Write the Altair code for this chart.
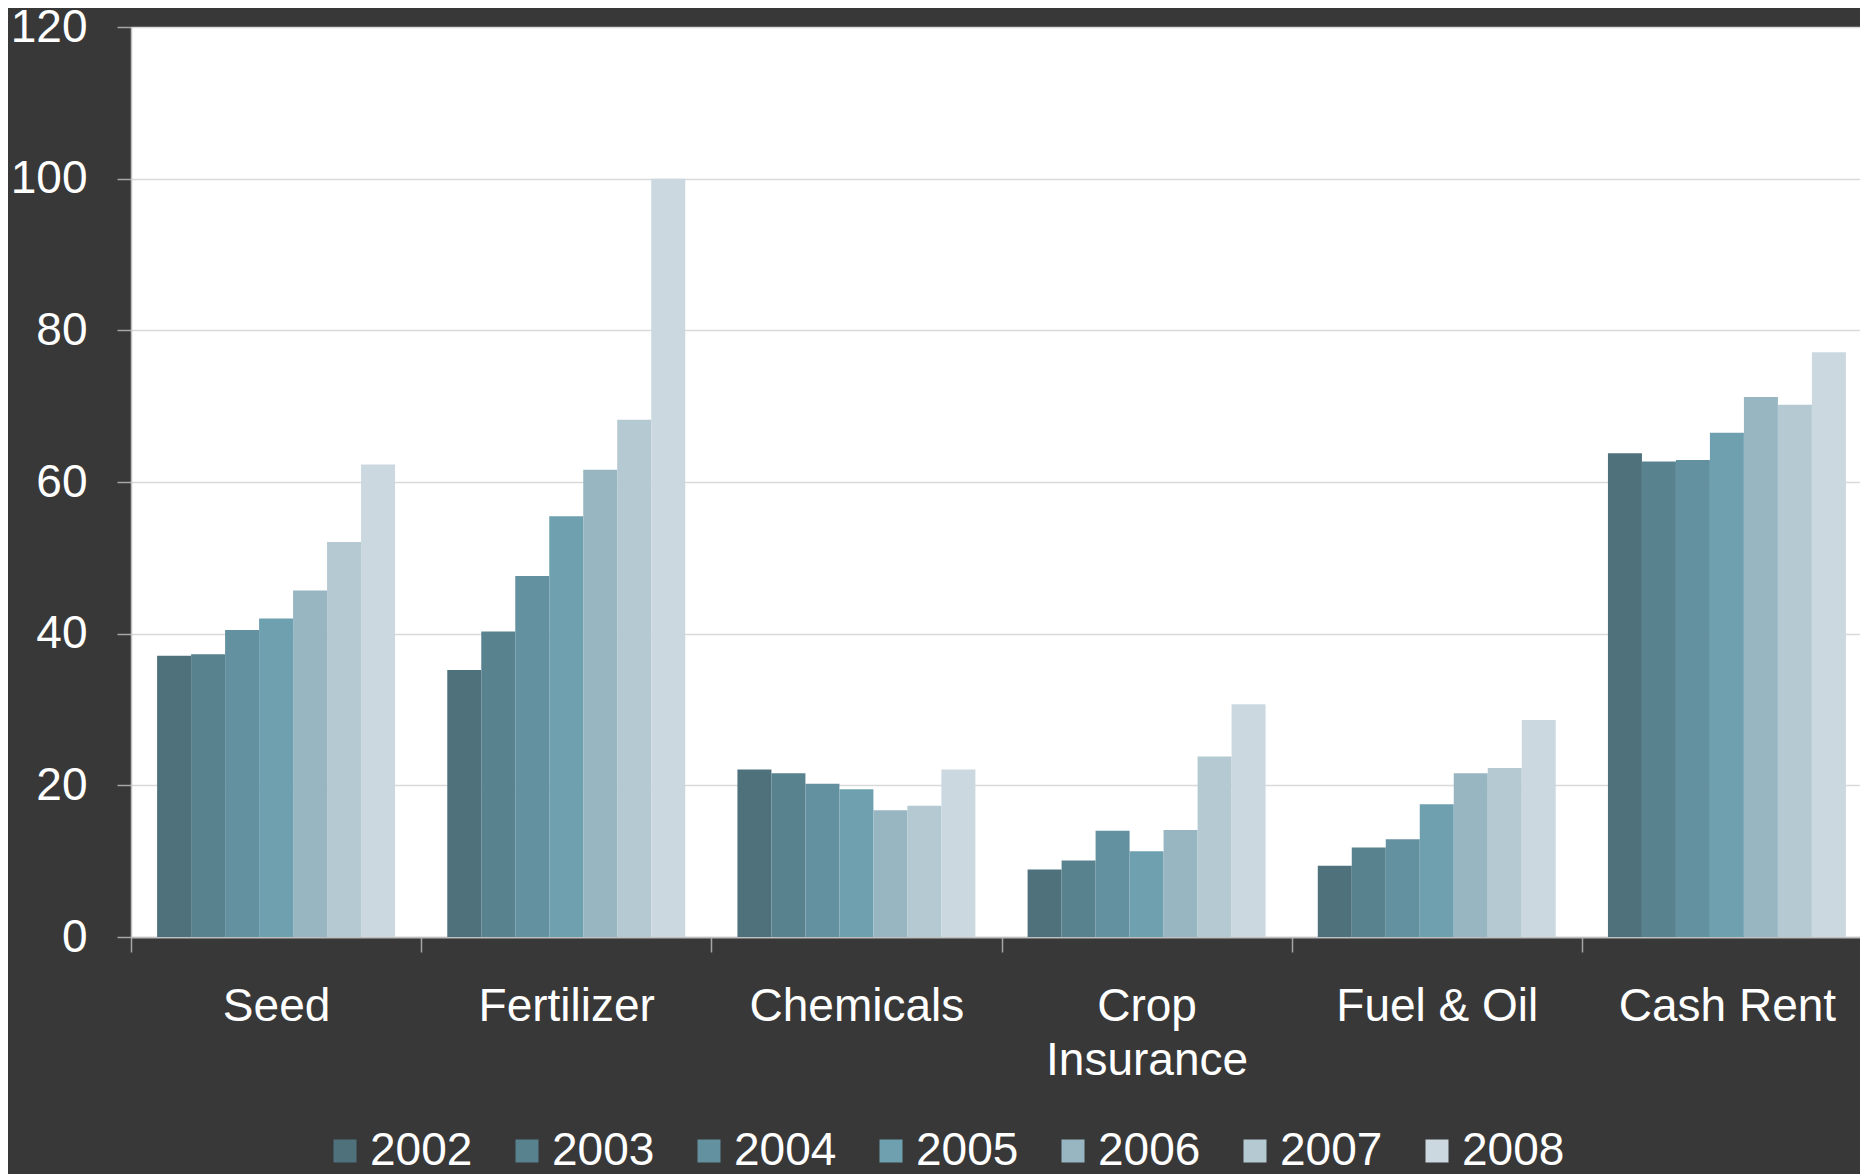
import altair as alt
import pandas as pd

categories = ["Seed", "Fertilizer", "Chemicals", "Crop Insurance", "Fuel & Oil", "Cash Rent"]
years = ["2002", "2003", "2004", "2005", "2006", "2007", "2008"]

seed = [37.1, 37.3, 40.5, 42.0, 45.7, 52.1, 62.3]
fertilizer = [35.2, 40.3, 47.6, 55.5, 61.6, 68.2, 100.0]
chemicals = [22.1, 21.6, 20.2, 19.5, 16.7, 17.3, 22.1]
crop_insurance = [8.9, 10.1, 14.0, 11.3, 14.1, 23.8, 30.7]
fuel_oil = [9.4, 11.8, 12.9, 17.5, 21.6, 22.3, 28.6]
cash_rent = [63.8, 62.7, 62.9, 66.5, 71.2, 70.2, 77.1]

colors = ["#4E717C", "#59828F", "#6491A0", "#6FA0B0", "#97B6C1", "#B4C9D2", "#CBD8DF"]

series = [seed, fertilizer, chemicals, crop_insurance, fuel_oil, cash_rent]
rows = []
for cat, vals in zip(categories, series):
    for yr, v in zip(years, vals):
        rows.append({"category": cat, "year": yr, "value": v})
df = pd.DataFrame(rows)

FONT = "Liberation Sans"

chart = alt.Chart(df).mark_bar().encode(
    x=alt.X(
        "category:N",
        sort=categories,
        scale=alt.Scale(paddingInner=0, paddingOuter=0, range=[0, 1741]),
        axis=alt.Axis(
            title=None,
            labelAngle=0,
            labelColor="#FFFFFF",
            labelFont=FONT,
            labelFontSize=46,
            labelPadding=32,
            labelLineHeight=54,
            labelLimit=0,
            labelExpr="datum.label == 'Crop Insurance' ? ['Crop', 'Insurance'] : datum.label",
            tickBand="extent",
            tickSize=15,
            tickColor="#A6A6A6",
            tickWidth=1.5,
            domainColor="#BFBFBF",
            domainWidth=1.5,
            grid=False,
        ),
    ),
    xOffset=alt.XOffset("year:N", sort=years, scale=alt.Scale(paddingInner=0, paddingOuter=0.768)),
    y=alt.Y(
        "value:Q",
        scale=alt.Scale(domain=[0, 120], nice=False),
        axis=alt.Axis(
            title=None,
            values=[0, 20, 40, 60, 80, 100, 120],
            labelColor="#FFFFFF",
            labelFont=FONT,
            labelFontSize=46,
            labelPadding=30,
            tickSize=14,
            tickColor="#A6A6A6",
            tickWidth=1.5,
            domainColor="#BFBFBF",
            domainWidth=1.5,
            gridColor="#D9D9D9",
            gridWidth=1.5,
        ),
    ),
    color=alt.Color(
        "year:N",
        sort=years,
        scale=alt.Scale(domain=years, range=colors),
        legend=alt.Legend(
            title=None,
            orient="none",
            legendX=191,
            legendY=1101,
            direction="horizontal",
            columns=7,
            columnPadding=31,
            padding=0,
            symbolType="square",
            symbolSize=529,
            symbolStrokeWidth=0,
            symbolOpacity=1,
            labelColor="#FFFFFF",
            labelFont=FONT,
            labelFontSize=46,
            labelOffset=2,
            labelLimit=0,
        ),
    ),
).properties(
    width=1729,
    height=910,
    background="#383838",
    padding={"left": 123, "top": 19, "right": 0, "bottom": 237},
    autosize=alt.AutoSizeParams(type="none"),
).configure_view(
    fill="#FFFFFF",
    strokeWidth=0,
)

chart.save("out.html", embed_options={"renderer": "svg", "actions": False})
